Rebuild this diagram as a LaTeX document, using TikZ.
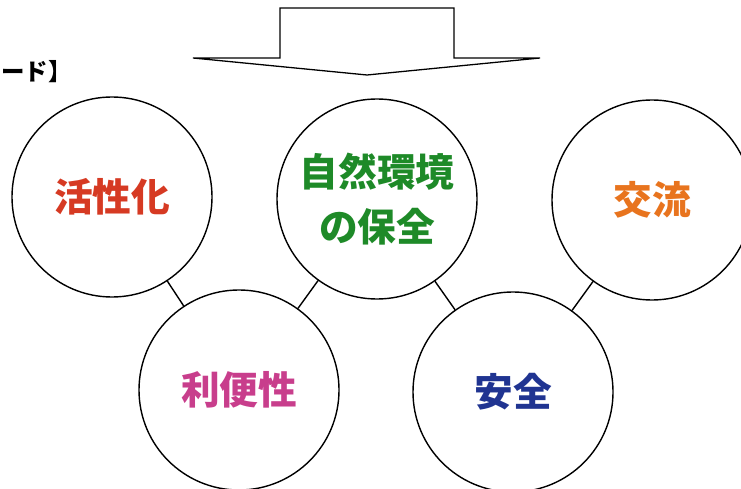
\documentclass[tikz,border=0pt]{standalone}
\usepackage{fontspec}
\usepackage{tikz}
\usetikzlibrary{positioning}
\newfontfamily\cjk{Noto Sans CJK JP}
\definecolor{katsuRed}{RGB}{214,58,35}
\definecolor{kankyoGreen}{RGB}{30,138,40}
\definecolor{kouryuOrange}{RGB}{232,116,30}
\definecolor{ribenPink}{RGB}{200,62,140}
\definecolor{anzenBlue}{RGB}{32,52,145}
\tikzset{
	word/.style={circle, draw, line width=1.2pt, minimum size=6cm, inner sep=0pt, align=center,
		font=\cjk\bfseries\fontsize{33}{47}\selectfont},
	link/.style={line width=1.2pt}
}

\begin{document}
\begin{tikzpicture}[x=0.03cm, y=-0.03cm]
			\useasboundingbox (0,0) rectangle (741,489);
			\clip (0,0) rectangle (741,489);
			% heading (cut off at the left edge)
			\node[anchor=west, inner sep=0pt, font=\cjk\bfseries\fontsize{20}{24}\selectfont] (head) at (1,72) {ード】};
			% big arrow
			\draw [line width=1.1pt, line join=miter] (193,58) -- (280,58) -- (280,8) -- (454,8) -- (454,58) -- (540,58) -- (367,75) -- cycle;

			\node[word, text=katsuRed] (node0) at (112,197) {活性化};
			\node[word, text=kankyoGreen] (top) at (377,199) {自然環境\\の保全};
			\node[word, text=kouryuOrange] (node4) at (652,200) {交流};
			\node[word, text=ribenPink] (node1) at (239,390) {利便性};
			\node[word, text=anzenBlue] (node2) at (513,392) {安全};

			\draw [link] (node0) to (node1);
			\draw [link] (top) to (node1);
			\draw [link] (top) to (node2);
			\draw [link] (node4) to (node2);
		\end{tikzpicture}
\end{document}
